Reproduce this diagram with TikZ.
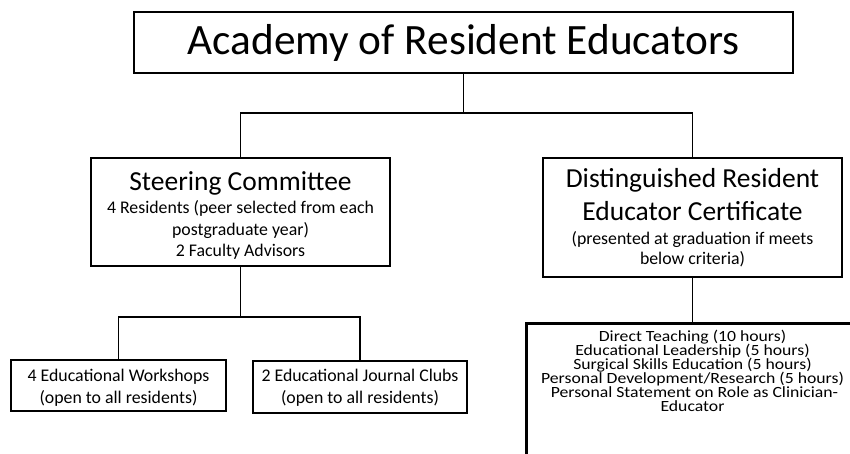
\documentclass[tikz,border=0pt]{standalone}
\usepackage{graphicx}
\usepackage{fontspec}
\setmainfont{Carlito}
\newcommand\hdrfont{\fontsize{27.5}{33}\selectfont}
\newcommand\bodyfont{\fontsize{17.8}{21.8}\selectfont}
% centred box contents of fixed size: #1 height, #2 width, #3 top offset, #4 text
\newcommand\boxtext[4]{\parbox[c][#1][c]{#2}{\centering\vspace*{#3}#4\par}}
\begin{document}
\begin{tikzpicture}[x=1pt,y=-1pt,
  box/.style={draw, rectangle, line width=2.6pt, inner sep=0pt},
  conn/.style={line width=1.6pt}]
\useasboundingbox (0,0) rectangle (850,454);
\clip (0,0) rectangle (850,454);
\fill[white] (0,0) rectangle (850,454);

% top level
\node[box, minimum width=659pt, minimum height=61pt,
      font=\fontsize{43.3}{52}\selectfont] (title) at (463.5,42.5)
  {Academy of Resident Educators};

% second level
\node[box] (steer) at (240.5,212)
  {\boxtext{108pt}{299pt}{7pt}{{\hdrfont Steering Committee\par}\vspace{1.5pt}\bodyfont
   4 Residents (peer selected from each\\ postgraduate year)\\ 2 Faculty Advisors}};

\node[box] (dre) at (692.5,217.5)
  {\boxtext{119pt}{299pt}{0pt}{{\hdrfont Distinguished Resident\\ Educator Certificate\par}\vspace{5pt}%
   \fontsize{17.8}{19.3}\selectfont (presented at graduation if meets\\ below criteria)}};

% third level
\node[box] (work) at (118.5,385.5)
  {\boxtext{51pt}{215pt}{4pt}{\bodyfont 4 Educational Workshops\\ (open to all residents)}};

\node[box] (club) at (360,387)
  {\boxtext{52pt}{214pt}{2pt}{\bodyfont 2 Educational Journal Clubs\\ (open to all residents)}};

\node[box, anchor=north] (crit) at (692.5,322)
  {\scalebox{1}[0.88]{\parbox[t][170pt][t]{332pt}{\centering
    \fontsize{17.7}{16.1}\selectfont\vspace*{7.3pt}%
    Direct Teaching (10 hours)\\
    Educational Leadership (5 hours)\\
    Surgical Skills Education (5 hours)\\
    Personal Development/Research (5 hours)\\
    \hspace*{4pt}Personal Statement on Role as Clinician-\\
    Educator\par}}};

% connectors
\coordinate (busA) at (463.5,113);
\coordinate (busB) at (240.5,317);
\draw[conn] (title.south) -- (busA);
\draw[conn] (steer.north) |- (busA) -| (dre.north);
\draw[conn] (steer.south) -- (busB);
\draw[conn] (work.north) |- (busB) -| (club.north);
\draw[conn] (dre.south) -- (crit.north);
\end{tikzpicture}
\end{document}
